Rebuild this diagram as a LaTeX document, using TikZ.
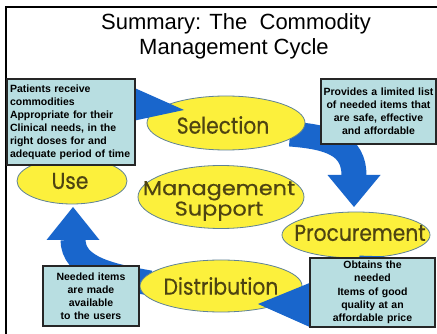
\documentclass[tikz,border=0pt]{standalone}
\usepackage{fontspec}
\setmainfont{Liberation Sans}
\newfontfamily\geofont[FakeStretch=0.88,FakeBold=0.4]{Poppins}
\newfontfamily\geowide[FakeStretch=1.12,FakeBold=0.4]{Poppins}
\usetikzlibrary{shapes.geometric,calc}
\definecolor{arrowblue}{RGB}{25,102,204}
\definecolor{ellyellow}{RGB}{252,240,60}
\definecolor{ellborder}{RGB}{95,130,150}
\definecolor{boxcyan}{RGB}{184,222,225}
\definecolor{olivetext}{RGB}{78,68,18}
\begin{document}
\begin{tikzpicture}[x=1pt,y=-1pt,
  titletext/.style={font=\fontsize{22}{25}\selectfont, inner sep=0pt, anchor=base},
  cyc/.style={ellipse, draw=ellborder, line width=0.8pt, fill=ellyellow, inner sep=0pt},
  elltext/.style={font=\geofont\fontsize{23}{17}\selectfont, text=olivetext, inner sep=0pt, align=center},
  band/.style={draw=arrowblue, line width=25pt, line cap=butt},
  head/.style={fill=arrowblue},
  infobox/.style={draw=black!85, line width=1.1pt, fill=boxcyan, inner sep=2pt,
    font=\bfseries\fontsize{10.5}{13}\selectfont, align=center}
]
\useasboundingbox (0,0) rectangle (437,334);
\fill[white] (0,0) rectangle (437,334);
\draw[line width=2.4pt] (6,334) -- (6,7) -- (437,7);

\node[titletext] (title1) at (236,30) {Summary: The\ \ Commodity};
\node[titletext] (title2) at (234,55) {Management Cycle};

% ellipse positions
\coordinate (selc) at (226,123);
\coordinate (usec) at (72,181);
\coordinate (mgmtc) at (221,197);
\coordinate (procc) at (356,235);
\coordinate (distc) at (221,286);

% arrows behind the ellipses
\coordinate (b2) at (354,175.5);
\draw[band] ($(selc)+(64,11)$) .. controls (330,137) and (354,145) .. (b2);
\fill[head] ($(procc)+(-28.5,-60)$) -- ($(procc)+(-2,-28)$) -- ($(procc)+(24.5,-60)$) -- cycle;
\coordinate (b4) at (73,239.5);
\draw[band] ($(distc)+(-71,-3)$) .. controls (110,276) and (73,268) .. (b4);
\fill[head] ($(usec)+(-25.5,59)$) -- ($(usec)+(1,26)$) -- ($(usec)+(27.5,59)$) -- cycle;

% ellipses
\node[cyc, minimum width=158pt, minimum height=54pt] (sel) at (selc) {};
\node[cyc, minimum width=110pt, minimum height=46pt] (use) at (usec) {};
\node[cyc, minimum width=166pt, minimum height=63pt] (mgmt) at (mgmtc) {};
\node[cyc, minimum width=148pt, minimum height=46pt] (proc) at (procc) {};
\node[cyc, minimum width=162pt, minimum height=52pt] (dist) at (distc) {};

\node[elltext] (selt) at ($(sel)+(-3,2)$) {Selection};
\node[elltext] (uset) at ($(use)+(-2,0)$) {Use};
\node[elltext, font=\geowide\fontsize{20}{16}\selectfont] (mgmtt) at ($(mgmt)+(-2,4)$) {Management\\Support};
\node[elltext] (proct) at ($(proc)+(4,-2)$) {Procurement};
\node[elltext] (distt) at (dist) {Distribution};

% arrows over the ellipses
\coordinate (b1) at (128,102);
\draw[band] ($(use)+(23,-29)$) .. controls (95,118) and (100,96) .. (b1);
\fill[head] ($(sel)+(-96,-37)$) -- ($(sel)+(-42,-13)$) -- ($(sel)+(-98,-1)$) -- cycle;
\coordinate (b3) at (311,304);
\draw[band] ($(proc)+(16,21)$) .. controls (372,290) and (340,304) .. (b3);
\fill[head] ($(dist)+(91,-4)$) -- ($(dist)+(37,18)$) -- ($(dist)+(91,42)$) -- cycle;

% text boxes
\node[infobox, align=left, text width=122pt, minimum width=128pt, minimum height=86pt] (boxuse) at (71,122)
  {Patients receive\\commodities\\Appropriate for their\\Clinical needs, in the\\right doses for and\\adequate period of time};
\node[infobox, text width=111pt, minimum width=115pt, minimum height=65pt] (boxsel) at (378.5,111.5)
  {Provides a limited list\\of needed items that\\are safe, effective\\and affordable};
\node[infobox, text width=92pt, minimum width=96pt, minimum height=60pt] (boxdist) at (91,296)
  {Needed items\\are made\\available\\to the users};
\node[infobox, text width=121pt, minimum width=125pt, minimum height=69pt,
  font=\bfseries\fontsize{10.5}{13.3}\selectfont] (boxproc) at (372.5,292.5)
  {Obtains the\\needed\\Items of good\\quality at an\\affordable price};
\end{tikzpicture}
\end{document}
